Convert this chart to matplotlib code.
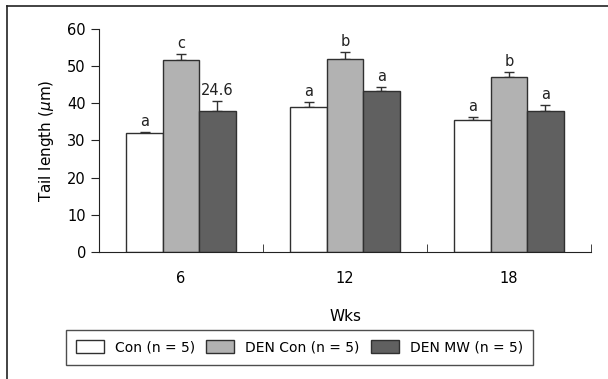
import matplotlib.pyplot as plt
import numpy as np
from matplotlib.lines import Line2D

plt.rcParams['font.family'] = ['DejaVu Sans']

weeks = ['6', '12', '18']
series = ['Con (n = 5)', 'DEN Con (n = 5)', 'DEN MW (n = 5)']
con = [31.9, 39.1, 35.5]
den_con = [51.7, 51.8, 47.0]
den_mw = [37.9, 43.4, 37.9]
con_err = [0.3, 1.3, 0.9]
den_con_err = [1.6, 1.9, 1.5]
den_mw_err = [2.8, 1.0, 1.5]
con_lab = ['a', 'a', 'a']
den_con_lab = ['c', 'b', 'b']
den_mw_lab = ['24.6', 'a', 'a']

colors = ['white', '#b2b2b2', '#606060']

fig = plt.figure(figsize=(6.08, 3.79), dpi=100)
ax = fig.add_axes([0.163, 0.335, 0.809, 0.589])

x = np.arange(len(weeks))
w = 0.222
vals = [con, den_con, den_mw]
errs = [con_err, den_con_err, den_mw_err]
labs = [con_lab, den_con_lab, den_mw_lab]
for i in range(3):
    pos = x + (i - 1) * w
    ax.bar(pos, vals[i], w, color=colors[i], edgecolor='#303030', linewidth=1.0,
           label=series[i], zorder=2)
    ax.errorbar(pos, vals[i], yerr=[np.zeros(3), errs[i]], fmt='none',
                ecolor='#303030', elinewidth=1.0, capsize=3.5, capthick=1.0, zorder=1)
    for p, v, e, t in zip(pos, vals[i], errs[i], labs[i]):
        ax.text(p, v + e + 0.8, t, ha='center', va='bottom', fontsize=10.5, color='#222222')

ax.set_xlim(-0.5, 2.5)
ax.set_ylim(0, 60)
ax.set_yticks(range(0, 61, 10))
ax.set_xticks(x)
ax.set_xticklabels(weeks)
ax.tick_params(axis='x', length=0, pad=14, labelsize=10.5)
ax.set_xticks([0.5, 1.5, 2.5], minor=True)
ax.tick_params(axis='x', which='minor', direction='in', length=6, color='#222222')
ax.tick_params(axis='y', direction='out', length=6, labelsize=10.5, color='#222222')
for s in ['top', 'right']:
    ax.spines[s].set_visible(False)
ax.spines['left'].set_color('#222222')
ax.spines['bottom'].set_color('#222222')
ax.set_ylabel(r'Tail length ($\mu$m)', fontsize=11, labelpad=8)
ax.set_xlabel('Wks', fontsize=11, labelpad=16)

leg = fig.legend(loc='center', bbox_to_anchor=(0.4926, 0.084), ncol=3, frameon=True,
                 fancybox=False, edgecolor='#222222', fontsize=10,
                 handlelength=2.0, handleheight=1.0, handletextpad=0.8,
                 columnspacing=0.8, borderpad=0.75)
leg.get_frame().set_linewidth(1.0)

# outer frame (left and top)
fig.add_artist(Line2D([0.011, 0.011], [0, 0.984], transform=fig.transFigure, color='#222222', lw=1.2))
fig.add_artist(Line2D([0.011, 1.0], [0.984, 0.984], transform=fig.transFigure, color='#222222', lw=1.2))

fig.savefig('out.png', dpi=100)
